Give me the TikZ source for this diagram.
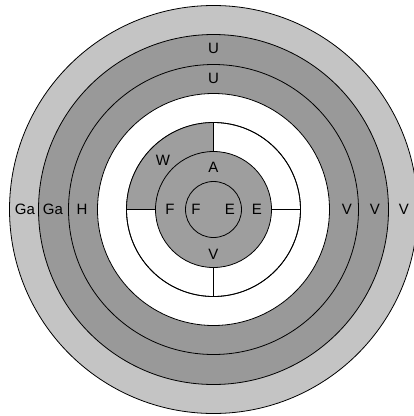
\documentclass[tikz,border=0pt]{standalone}
\usepackage{fontspec}
\setmainfont{Liberation Sans}
\usetikzlibrary{calc}
\definecolor{lightring}{gray}{0.77}
\definecolor{darkring}{gray}{0.60}
\definecolor{innergray}{gray}{0.62}
\tikzset{
  ring/.style={draw=black, line width=0.8pt},
  lbl/.style={font=\fontsize{15}{15}\selectfont, inner sep=0pt, text=black},
  divider/.style={draw=black, line width=0.8pt}
}
\begin{document}
\begin{tikzpicture}[x=1pt,y=-1pt]
\useasboundingbox (0,0) rectangle (414,416);
\fill[white] (0,0) rectangle (414,416);
\clip (0,0) rectangle (414,416);
\coordinate (c) at (213.5,209.5);
% rings
\filldraw[ring, fill=lightring] (c) circle (204);
\filldraw[ring, fill=darkring] (c) circle (175);
\filldraw[ring, fill=darkring] (c) circle (145);
\filldraw[ring, fill=white] (c) circle (116);
\filldraw[ring, fill=white] (c) circle (87);
% grey upper-left quadrant
\fill[innergray] (c) -- ++(-87,0) arc[start angle=180, end angle=270, radius=87] -- cycle;
\draw[ring] (c) circle (87);
\filldraw[ring, fill=innergray] (c) circle (58);
\filldraw[ring, fill=innergray] (c) circle (28);
% divider end points
\coordinate (ti) at ($(c)+(0,-58)$);
\coordinate (to) at ($(c)+(0,-87)$);
\coordinate (bi) at ($(c)+(0,58)$);
\coordinate (bo) at ($(c)+(0,87)$);
\coordinate (li) at ($(c)+(-58,0)$);
\coordinate (lo) at ($(c)+(-87,0)$);
\coordinate (ri) at ($(c)+(58,0)$);
\coordinate (ro) at ($(c)+(87,0)$);
\draw[divider] (ti) -- (to);
\draw[divider] (bi) -- (bo);
\draw[divider] (li) -- (lo);
\draw[divider] (ri) -- (ro);
% labels
\node[lbl] (u1) at (213.5,48) {U};
\node[lbl] (u2) at (213.5,78) {U};
\node[lbl] (ga1) at (25,209.5) {Ga};
\node[lbl] (ga2) at (53,209.5) {Ga};
\node[lbl] (h) at (82,209.5) {H};
\node[lbl] (v1) at (347,209.5) {V};
\node[lbl] (v2) at (375,209.5) {V};
\node[lbl] (v3) at (404,209.5) {V};
\node[lbl] (w) at (163,160) {W};
\node[lbl] (a) at (213.5,167) {A};
\node[lbl] (f1) at (170,209.5) {F};
\node[lbl] (f2) at (196,209.5) {F};
\node[lbl] (e1) at (230,209.5) {E};
\node[lbl] (e2) at (257,209.5) {E};
\node[lbl] (v4) at (213.5,254) {V};
\end{tikzpicture}
\end{document}
